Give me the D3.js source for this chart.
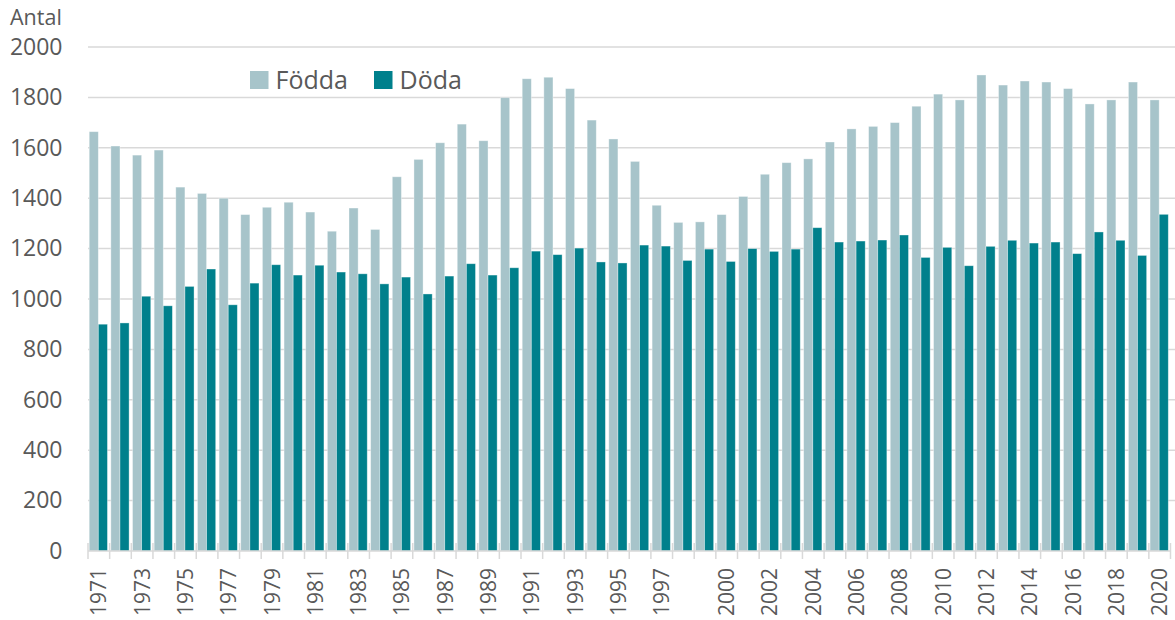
<!DOCTYPE html>
<html>
<head>
<meta charset="utf-8">
<script src="https://cdn.jsdelivr.net/npm/d3@7"></script>
<style>
  body { margin: 0; background: #fff; }
  text { font-family: "Open Sans", sans-serif; fill: #595959; }
</style>
</head>
<body>
<div id="chart"></div>
<script>
// years on the x axis
const years = d3.range(1971, 2021).map(String);

// births per year
const fodda = [1664, 1607, 1571, 1591, 1444, 1419, 1400, 1335, 1364, 1384,
               1345, 1269, 1361, 1276, 1485, 1554, 1620, 1694, 1628, 1799,
               1874, 1880, 1835, 1710, 1635, 1546, 1372, 1304, 1306, 1335,
               1407, 1495, 1541, 1556, 1623, 1675, 1685, 1700, 1765, 1813,
               1790, 1889, 1849, 1865, 1861, 1835, 1774, 1790, 1861, 1790];

// deaths per year
const doda = [900, 905, 1011, 973, 1050, 1119, 977, 1063, 1136, 1095,
              1134, 1107, 1100, 1060, 1087, 1020, 1091, 1140, 1095, 1124,
              1190, 1176, 1202, 1147, 1143, 1214, 1210, 1153, 1198, 1149,
              1200, 1189, 1198, 1283, 1226, 1230, 1234, 1254, 1165, 1205,
              1132, 1209, 1233, 1222, 1226, 1180, 1266, 1233, 1173, 1336];

// years that get a label under the axis
const tickLabels = ["1971", "1973", "1975", "1977", "1979", "1981", "1983", "1985",
                    "1987", "1989", "1991", "1993", "1995", "1997", "2000", "2002",
                    "2004", "2006", "2008", "2010", "2012", "2014", "2016", "2018", "2020"];

const yTicks = [0, 200, 400, 600, 800, 1000, 1200, 1400, 1600, 1800, 2000];
const seriesNames = ["Födda", "Döda"];
const colors = { "Födda": "#a7c4ca", "Döda": "#00808c" };

const width = 1175, height = 620;
const margin = { top: 47, right: 4.5, bottom: 69, left: 88 };

const svg = d3.select("#chart").append("svg")
    .attr("width", width)
    .attr("height", height);

const x = d3.scaleBand().domain(years).range([margin.left, width - margin.right]);
const xSub = d3.scaleBand().domain(seriesNames).range([1.2, x.bandwidth() - 2.2]);
const y = d3.scaleLinear().domain([0, 2000]).range([height - margin.bottom, margin.top]);

// gridlines
svg.append("g").selectAll("line").data(yTicks.filter(d => d > 0)).join("line")
    .attr("x1", margin.left)
    .attr("x2", width)
    .attr("y1", d => y(d))
    .attr("y2", d => y(d))
    .attr("stroke", "#d9d9d9")
    .attr("stroke-width", 1.5);

// y axis labels
const yAxis = d3.axisLeft(y).tickValues(yTicks).tickFormat(d3.format("d")).tickSize(0).tickPadding(0);
svg.append("g")
    .attr("transform", "translate(62.5,0)")
    .call(yAxis)
    .call(g => g.select(".domain").remove())
    .selectAll("text")
    .attr("font-size", 23)
    .attr("fill", "#595959")
    .attr("font-family", "Open Sans, sans-serif");

svg.append("text")
    .attr("x", 10)
    .attr("y", 24.5)
    .attr("font-size", 21.5)
    .text("Antal");

// bars
const rows = years.map((yr, i) => ({ year: yr, values: [
    { name: "Födda", value: fodda[i] },
    { name: "Döda", value: doda[i] }
] }));

svg.append("g").selectAll("g").data(rows).join("g")
    .attr("transform", d => "translate(" + x(d.year) + ",0)")
    .selectAll("rect").data(d => d.values).join("rect")
    .attr("x", d => xSub(d.name))
    .attr("width", xSub.bandwidth())
    .attr("y", d => y(d.value))
    .attr("height", d => y(0) - y(d.value))
    .attr("fill", d => colors[d.name])
    .attr("stroke", "#ffffff")
    .attr("stroke-opacity", 0.45)
    .attr("stroke-width", 0.8);

// x axis line with crossing ticks at category edges
const xAxisG = svg.append("g");
xAxisG.append("line")
    .attr("x1", margin.left)
    .attr("x2", width - margin.right)
    .attr("y1", y(0))
    .attr("y2", y(0))
    .attr("stroke", "#d9d9d9")
    .attr("stroke-width", 1.5);
xAxisG.selectAll(".tk").data(years.concat(["end"])).join("line")
    .attr("class", "tk")
    .attr("x1", d => d === "end" ? width - margin.right : x(d))
    .attr("x2", d => d === "end" ? width - margin.right : x(d))
    .attr("y1", y(0) - 8)
    .attr("y2", y(0) + 8)
    .attr("stroke", "#d9d9d9")
    .attr("stroke-width", 1.5);

xAxisG.selectAll(".lbl").data(tickLabels).join("text")
    .attr("class", "lbl")
    .attr("transform", d => "translate(" + (x(d) + x.bandwidth() / 2 + 7.5) + "," + (y(0) + 17) + ") rotate(-90)")
    .attr("text-anchor", "end")
    .attr("font-size", 21)
    .text(d => d);

// legend
const legend = svg.append("g");
const legendPos = [{ name: "Födda", x: 250 }, { name: "Döda", x: 374 }];
legend.selectAll("rect").data(legendPos).join("rect")
    .attr("x", d => d.x)
    .attr("y", 71)
    .attr("width", 18.5)
    .attr("height", 18)
    .attr("fill", d => colors[d.name]);
legend.selectAll("text").data(legendPos).join("text")
    .attr("x", d => d.x + 25.5)
    .attr("y", 89)
    .attr("font-size", 25)
    .text(d => d.name);
</script>
</body>
</html>
